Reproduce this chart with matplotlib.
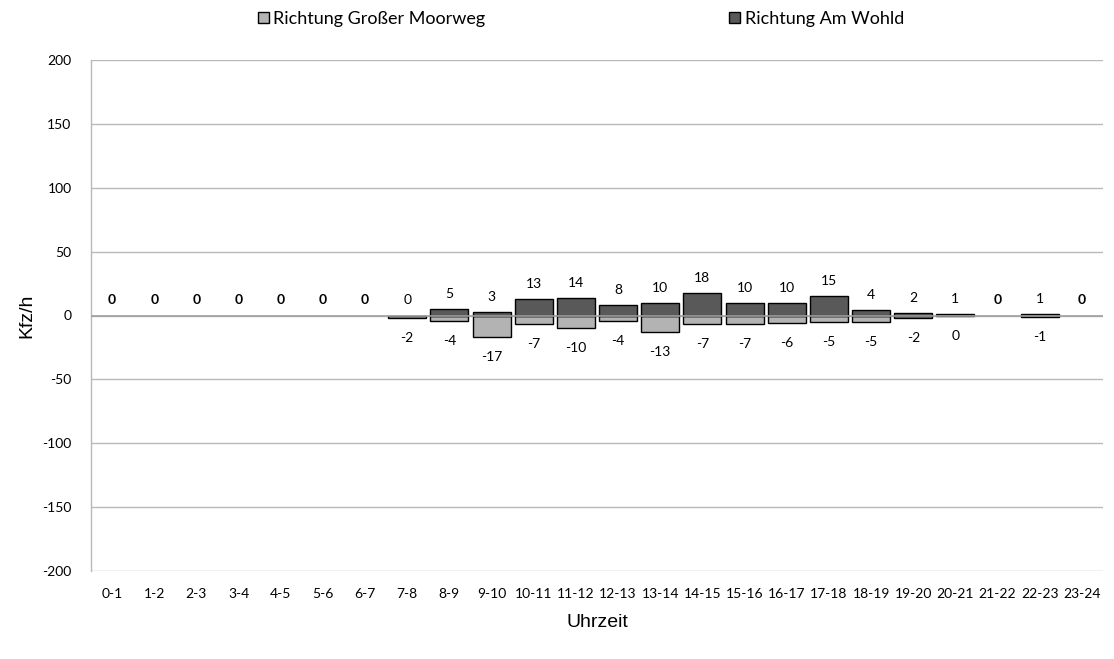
import matplotlib
matplotlib.use("Agg")
import matplotlib.pyplot as plt
from matplotlib.patches import Patch
import numpy as np

hours = ["0-1", "1-2", "2-3", "3-4", "4-5", "5-6", "6-7", "7-8", "8-9", "9-10",
         "10-11", "11-12", "12-13", "13-14", "14-15", "15-16", "16-17", "17-18",
         "18-19", "19-20", "20-21", "21-22", "22-23", "23-24"]
moorweg = [0, 0, 0, 0, 0, 0, 0, -2, -4, -17, -7, -10, -4, -13, -7, -7, -6, -5, -5, -2, 0, 0, -1, 0]
wohld = [0, 0, 0, 0, 0, 0, 0, 0, 5, 3, 13, 14, 8, 10, 18, 10, 10, 15, 4, 2, 1, 0, 1, 0]
yticks = [-200, -150, -100, -50, 0, 50, 100, 150, 200]

c_light = "#b3b3b3"
c_dark = "#595959"
grid_c = "#b9b9b9"

fig = plt.figure(figsize=(11.14, 6.59), dpi=100)
ax = fig.add_axes([91/1114, 88/659, 1012/1114, 511/659])

x = np.arange(len(hours))
w = 0.9
lw_m = [1.0 if v != 0 else 0 for v in moorweg]
lw_w = [1.0 if v != 0 else 0 for v in wohld]
ax.bar(x, moorweg, width=w, color=c_light, edgecolor="black", linewidth=lw_m, zorder=2)
ax.bar(x, wohld, width=w, color=c_dark, edgecolor="black", linewidth=lw_w, zorder=2)
ax.axhline(0, color="#a0a0a0", linewidth=1.2, zorder=3)

lab_font = "Lato"
fs = 10
for i in range(len(hours)):
    m, d = moorweg[i], wohld[i]
    if m == 0 and d == 0:
        ax.annotate("0", (x[i], 0), xytext=(0, 15), textcoords="offset pixels",
                    ha="center", va="center", fontsize=fs, fontweight="bold", family=lab_font)
        continue
    ax.annotate(f"{d}", (x[i], d), xytext=(0, 15), textcoords="offset pixels",
                ha="center", va="center", fontsize=fs, family=lab_font)
    ax.annotate(f"{m}", (x[i], m), xytext=(0, -20), textcoords="offset pixels",
                ha="center", va="center", fontsize=fs, family=lab_font)

ax.set_ylim(-200, 200)
ax.set_xlim(-0.5, len(hours) - 0.5)
ax.set_yticks(yticks)
ax.set_yticklabels([str(v) for v in yticks], fontsize=fs, family=lab_font)
ax.set_xticks(x)
ax.set_xticklabels(hours, fontsize=fs, family=lab_font)
ax.tick_params(axis="both", length=0)
ax.tick_params(axis="x", pad=12)
ax.tick_params(axis="y", pad=14)
ax.yaxis.grid(True, color=grid_c, linewidth=1.0, zorder=0)
ax.set_axisbelow(True)
for s in ["top", "right", "bottom"]:
    ax.spines[s].set_visible(False)
ax.spines["left"].set_color(grid_c)
ax.spines["left"].set_linewidth(1.0)

ax.set_ylabel("Kfz/h", fontsize=14, family="Liberation Sans", labelpad=5)
ax.set_xlabel("Uhrzeit", fontsize=14, family="Liberation Sans", labelpad=10)

handles = [Patch(facecolor=c_light, edgecolor="black", linewidth=1.0),
           Patch(facecolor=c_dark, edgecolor="black", linewidth=1.0)]
fig.legend(handles, ["Richtung Großer Moorweg", "Richtung Am Wohld"], loc="center",
           bbox_to_anchor=(581/1114, 1 - 19/659), ncol=2, frameon=False,
           prop={"family": lab_font, "size": 13}, handlelength=0.6, handleheight=0.6,
           handletextpad=0.25, columnspacing=13.5)

fig.savefig("out.png", dpi=100)
